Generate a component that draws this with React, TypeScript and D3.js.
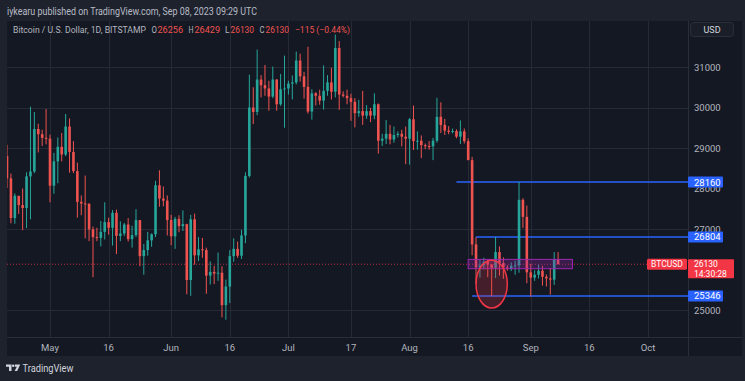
import React from "react";
import * as d3 from "d3";

// ---- data (BTC/USD daily, Bitstamp) ----
const firstDay = [2023, 3, 20]; // Apr 20, 2023 (UTC), consecutive daily candles
// [open, high, low, close]
const candlesApr = [
  [28800, 29080, 28010, 28250], [28250, 28370, 27140, 27270], [27270, 27880, 27130, 27820],
  [27820, 27820, 27370, 27590], [27590, 28000, 26970, 27520], [27520, 28400, 27020, 28300],
  [28300, 30020, 27240, 28420], [28420, 29890, 28380, 29470], [29470, 29600, 28890, 29340],
  [29340, 29450, 29050, 29250], [29250, 29960, 29090, 29230],
];
const candlesMay = [
  [29230, 29330, 27660, 28070], [28070, 28880, 27870, 28670], [28670, 29260, 28130, 29030],
  [29030, 29370, 28670, 28840], [28840, 29840, 28800, 29530], [29530, 29730, 28390, 28900],
  [28900, 29170, 28380, 28430], [28430, 28640, 27280, 27670], [27670, 27830, 27340, 27630],
  [27630, 28320, 26770, 27620], [27620, 27640, 26700, 26990], [26990, 27060, 25810, 26800],
  [26800, 27030, 26700, 26780], [26780, 27200, 26570, 26930], [26930, 27660, 26740, 27170],
  [27170, 27280, 26860, 27030], [27030, 27470, 26590, 27400], [27400, 27480, 26380, 26830],
  [26830, 27190, 26700, 26890], [26890, 27150, 26830, 27110], [27110, 27270, 26690, 26750],
  [26750, 27080, 26540, 26850], [26850, 27490, 26800, 27220], [27220, 27220, 26080, 26330],
  [26330, 26630, 25870, 26480], [26480, 26930, 26340, 26720], [26720, 26890, 26560, 26870],
  [26870, 28190, 26800, 28080], [28080, 28450, 27550, 27750], [27750, 28050, 27560, 27700],
  [27700, 27830, 26840, 27220],
];
const candlesJun = [
  [27220, 27350, 26600, 26820], [26820, 27300, 26510, 27250], [27250, 27340, 26920, 27070],
  [27070, 27460, 26950, 27120], [27120, 27130, 25390, 25740], [25740, 27350, 25350, 27240],
  [27240, 27380, 26120, 26350], [26350, 26800, 26210, 26500], [26500, 26780, 26290, 26480],
  [26480, 26540, 25400, 25850], [25850, 26200, 25630, 25940], [25940, 26090, 25640, 25900],
  [25900, 26420, 25720, 25920], [25920, 26080, 24820, 25120], [25120, 25750, 24760, 25580],
  [25580, 26480, 25170, 26330], [26330, 26770, 26190, 26510], [26510, 26690, 26290, 26340],
  [26340, 26980, 26260, 26840], [26840, 28400, 26650, 28310], [28310, 30810, 28270, 30000],
  [30000, 30500, 29590, 29890], [29890, 31430, 29810, 30690], [30690, 30800, 30250, 30550],
  [30550, 31050, 30290, 30470], [30470, 30660, 29920, 30270], [30270, 31010, 30230, 30690],
  [30690, 30700, 29920, 30080], [30080, 30830, 30040, 30450], [30450, 31280, 29500, 30470],
];
const candlesJul = [
  [30470, 30660, 30320, 30590], [30590, 30790, 30200, 30620], [30620, 31380, 30570, 31160],
  [31160, 31330, 30640, 30770], [30770, 30880, 30220, 30510], [30510, 31500, 29850, 29900],
  [29900, 30450, 29700, 30350], [30350, 30380, 30050, 30290], [30290, 30440, 30070, 30170],
  [30170, 31040, 29950, 30410], [30410, 30800, 30290, 30620], [30620, 30980, 30200, 30390],
  [30390, 31800, 30250, 31470], [31470, 31640, 29940, 30320], [30320, 30400, 30250, 30290],
  [30290, 30440, 30080, 30230], [30230, 30340, 29670, 30140], [30140, 30230, 29510, 29860],
  [29860, 30190, 29770, 29910], [29910, 30410, 29570, 29800], [29800, 30060, 29720, 29910],
  [29910, 29990, 29640, 29800], [29800, 30350, 29710, 30080], [30080, 30100, 28860, 29180],
  [29180, 29350, 29050, 29230], [29230, 29690, 29100, 29350], [29350, 29570, 29090, 29210],
  [29210, 29530, 29130, 29320], [29320, 29410, 29260, 29350], [29350, 29450, 29040, 29280],
  [29280, 29530, 28600, 29230],
];
const candlesAug = [
  [29230, 29740, 28590, 29710], [29710, 30050, 28950, 29170], [29170, 29410, 28960, 29180],
  [29180, 29310, 28750, 29070], [29070, 29110, 28970, 29050], [29050, 29170, 28960, 29040],
  [29040, 29250, 28700, 29180], [29180, 30240, 29130, 29770], [29770, 30130, 29370, 29570],
  [29570, 29720, 29320, 29430], [29430, 29540, 29340, 29400], [29400, 29480, 29360, 29420],
  [29420, 29460, 29240, 29280], [29280, 29680, 29100, 29410], [29410, 29480, 29110, 29170],
  [29170, 29240, 28700, 28700], [28700, 28780, 26350, 26620], [26620, 26800, 25650, 26050],
  [26050, 26260, 25800, 26100], [26100, 26290, 26000, 26190], [26190, 26250, 25810, 26120],
  [26120, 26140, 25346, 26040], [26040, 26804, 25790, 26430], [26430, 26570, 25850, 26160],
  [26160, 26300, 25770, 26050], [26050, 26110, 25970, 26010], [26010, 26180, 25960, 26090],
  [26090, 26220, 25870, 26100], [26100, 28160, 25920, 27720], [27720, 27760, 27030, 27300],
  [27300, 27580, 25660, 25930],
];
const candlesSep = [
  [25930, 26140, 25330, 25800], [25800, 25980, 25720, 25870], [25870, 26120, 25780, 25970],
  [25970, 26090, 25600, 25820], [25820, 25880, 25580, 25780], [25780, 26040, 25380, 25750],
  [25750, 26430, 25620, 26240], [26256, 26429, 26130, 26130],
];

// 26000 is hidden behind the last-price label in the reference
const priceTicks = [25000, 27000, 28000, 29000, 30000, 31000];
const priceGrid = [25000, 27000, 29000, 30000, 31000];
const timeTicks: [number, number, number, string][] = [
  [2023, 4, 1, "May"], [2023, 4, 16, "16"], [2023, 5, 1, "Jun"], [2023, 5, 16, "16"],
  [2023, 6, 1, "Jul"], [2023, 6, 17, "17"], [2023, 7, 1, "Aug"], [2023, 7, 16, "16"],
  [2023, 8, 1, "Sep"], [2023, 8, 16, "16"], [2023, 9, 1, "Oct"],
];
// horizontal levels: [price, start date]
const levels: [number, number, number, number][] = [
  [28160, 2023, 7, 13], [26804, 2023, 7, 18], [25346, 2023, 7, 17],
];
const lastPrice = 26130;
const countdown = "14:30:28";
const legendValues = { o: "26256", h: "26429", l: "26130", c: "26130", chg: "\u2212115 (\u22120.44%)" };

const UP = "#26a69a";
const DOWN = "#ef5350";
const FONT = "Roboto, 'Noto Sans', sans-serif";

export default function App() {
  const W = 745, H = 381;
  const paneL = 7, paneT = 21, paneR = 688, paneB = 337, panelR = 742, panelB = 356;

  const x = d3.scaleTime()
    .domain([new Date(Date.UTC(2023, 4, 1)), new Date(Date.UTC(2023, 9, 1))])
    .range([50, 648]);
  const y = d3.scaleLinear().domain([25000, 31000]).range([310, 67]);

  const all = [...candlesApr, ...candlesMay, ...candlesJun, ...candlesJul, ...candlesAug, ...candlesSep];
  const candles = all.map((c, i) => ({
    date: new Date(Date.UTC(firstDay[0], firstDay[1], firstDay[2] + i)),
    o: c[0], h: c[1], l: c[2], c: c[3],
  }));
  const bw = 2.6;

  const D = (yy: number, m: number, d: number, hh = 0) => new Date(Date.UTC(yy, m, d, hh));

  // annotations
  const ellX0 = x(D(2023, 7, 18)), ellX1 = x(D(2023, 7, 26));
  const ellY0 = y(26230), ellY1 = y(25050);
  const rectX0 = x(D(2023, 7, 16)), rectX1 = x(D(2023, 8, 11, 16));
  const rectY0 = y(26250), rectY1 = y(26020);

  // [x, text, colour, textLength]
  const legendParts: [number, string, string, number][] = [
    [151.5, "O", "#b2b5be", 5.5], [157.5, legendValues.o, DOWN, 25.5],
    [188.5, "H", "#b2b5be", 5], [194.5, legendValues.h, DOWN, 25.5],
    [225, "L", "#b2b5be", 4.5], [230.5, legendValues.l, DOWN, 23.5],
    [259.5, "C", "#b2b5be", 5], [265.5, legendValues.c, DOWN, 23.5],
    [295, legendValues.chg, DOWN, 55],
  ];

  const ly = y(lastPrice);

  return (
    <svg width={W} height={H} style={{ position: "absolute", left: 0, top: 0, display: "block" }} fontFamily={FONT}>
      <defs>
        <clipPath id="pane">
          <rect x={paneL} y={paneT} width={paneR - paneL} height={paneB - paneT} />
        </clipPath>
      </defs>
      <rect x={0} y={0} width={W} height={H} fill="#1e222d" />
      <rect x={paneL} y={paneT} width={panelR - paneL} height={panelB - paneT} fill="#141823" />

      {/* header */}
      <text x={7} y={11} fontSize={10} fill="#b8bcc6" dominantBaseline="central" textLength={250} lengthAdjust="spacingAndGlyphs">
        iykearu published on TradingView.com, Sep 08, 2023 09:29 UTC
      </text>

      {/* grid */}
      <g stroke="#262a36" strokeWidth={1}>
        {timeTicks.map((t, i) => {
          const xx = Math.round(x(D(t[0], t[1], t[2]))) + 0.5;
          return <line key={"vg" + i} x1={xx} x2={xx} y1={paneT} y2={paneB} />;
        })}
        {priceGrid.map((p, i) => {
          const yy = Math.round(y(p)) + 0.5;
          return <line key={"hg" + i} x1={paneL} x2={paneR} y1={yy} y2={yy} />;
        })}
      </g>

      <g clipPath="url(#pane)">
        {/* current price dotted line */}
        <line x1={paneL} x2={paneR} y1={ly} y2={ly} stroke="#f23645" strokeOpacity={0.75} strokeDasharray="1,2" strokeWidth={1} />

        {/* horizontal levels */}
        {levels.map((lv, i) => (
          <line key={"lv" + i} x1={x(D(lv[1], lv[2], lv[3]))} x2={paneR} y1={y(lv[0])} y2={y(lv[0])} stroke="#2962ff" strokeWidth={1.5} />
        ))}

        {/* candles */}
        {candles.map((c, i) => {
          const cx = x(c.date);
          const col = c.c >= c.o ? UP : DOWN;
          const top = y(Math.max(c.o, c.c));
          const bot = y(Math.min(c.o, c.c));
          return (
            <g key={i}>
              <line x1={cx} x2={cx} y1={y(c.h)} y2={y(c.l)} stroke={col} strokeWidth={1} />
              <rect x={cx - bw / 2} y={top} width={bw} height={Math.max(1, bot - top)} fill={col} />
            </g>
          );
        })}

        {/* purple range box */}
        <rect x={rectX0} y={rectY0} width={rectX1 - rectX0} height={rectY1 - rectY0}
          fill="rgba(156,39,176,0.28)" stroke="#9c27b0" strokeWidth={1} />

        {/* ellipse highlight */}
        <ellipse cx={(ellX0 + ellX1) / 2} cy={(ellY0 + ellY1) / 2} rx={(ellX1 - ellX0) / 2} ry={(ellY1 - ellY0) / 2}
          fill="rgba(242,54,69,0.22)" stroke="#f23645" strokeWidth={1.5} />

        {/* BTCUSD label */}
        <rect x={647} y={ly - 5.5} width={40} height={11} rx={1.5} fill="#f23645" />
        <text x={667} y={ly} fontSize={8.5} fill="#ffffff" textAnchor="middle" dominantBaseline="central">BTCUSD</text>
      </g>

      {/* legend */}
      <text x={13} y={29.5} fontSize={9.5} fill="#b2b5be" dominantBaseline="central" textLength={133} lengthAdjust="spacingAndGlyphs">
        Bitcoin / U.S. Dollar, 1D, BITSTAMP
      </text>
      {legendParts.map((p, i) => (
        <text key={"lg" + i} x={p[0]} y={29.5} fontSize={9} fill={p[2]} dominantBaseline="central"
          textLength={p[3]} lengthAdjust="spacingAndGlyphs">{p[1]}</text>
      ))}

      {/* axes separators */}
      <line x1={paneR + 0.5} x2={paneR + 0.5} y1={paneT} y2={panelB} stroke="#2a2e39" />
      <line x1={paneL} x2={panelR} y1={paneB + 0.5} y2={paneB + 0.5} stroke="#2a2e39" />

      {/* price axis */}
      {priceTicks.map((p, i) => (
        <text key={"pt" + i} x={694} y={y(p)} fontSize={9.5} fill="#b2b5be" dominantBaseline="central">{p}</text>
      ))}
      {levels.map((lv, i) => (
        <g key={"ll" + i}>
          <rect x={paneR} y={y(lv[0]) - 5.5} width={35} height={11} rx={1} fill="#2962ff" />
          <text x={694} y={y(lv[0])} fontSize={9.5} fill="#ffffff" dominantBaseline="central">{lv[0]}</text>
        </g>
      ))}
      <rect x={paneR} y={ly - 5} width={46} height={19} rx={1} fill="#f23645" />
      <text x={694} y={ly} fontSize={8.5} fill="#ffffff" dominantBaseline="central">{lastPrice}</text>
      <text x={694} y={ly + 9.6} fontSize={8.5} fill="#ffffff" dominantBaseline="central">{countdown}</text>

      {/* USD box */}
      <rect x={690.5} y={22.5} width={43} height={14} rx={3} fill="#1a1e29" stroke="#2a2e39" />
      <text x={712} y={29.5} fontSize={9} fill="#d1d4dc" textAnchor="middle" dominantBaseline="central">USD</text>

      {/* time axis */}
      {timeTicks.map((t, i) => (
        <text key={"tt" + i} x={x(D(t[0], t[1], t[2]))} y={347.5} fontSize={9.5} fill="#b2b5be" textAnchor="middle" dominantBaseline="central">{t[3]}</text>
      ))}

      {/* footer logo */}
      <g fill="#d1d4dc">
        <path d="M6 364.5 h5.5 v6.5 h-2.5 v-4.3 h-3 z" />
        <circle cx={13.2} cy={365.8} r={1.3} />
        <path d="M15 364.5 h5.2 l-3 6.5 h-2.6 l2.2 -4.3 h-1.8 z" />
      </g>
      <text x={22.5} y={368} fontSize={11} fill="#d1d4dc" dominantBaseline="central" textLength={51} lengthAdjust="spacingAndGlyphs">TradingView</text>
    </svg>
  );
}
